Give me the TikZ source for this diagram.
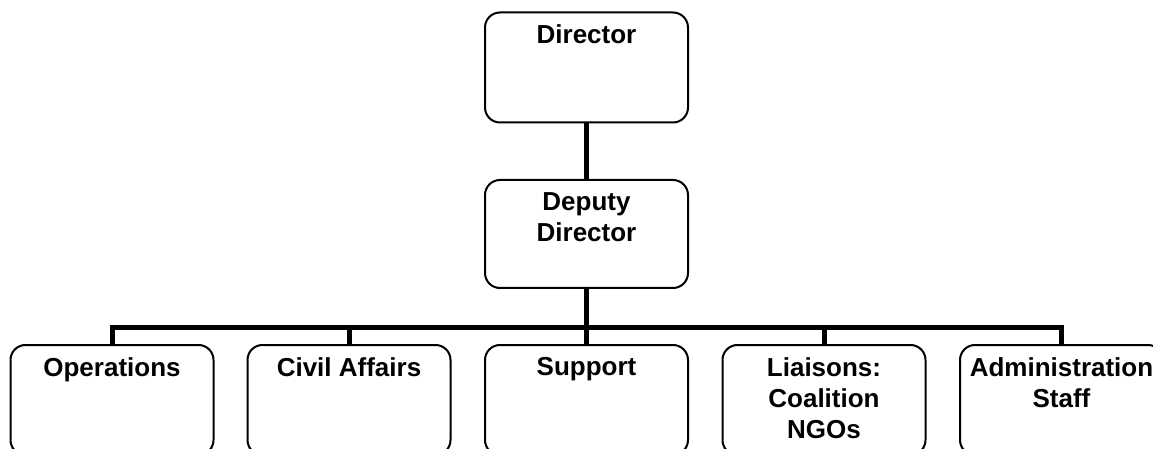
\documentclass[tikz,border=0pt]{standalone}
\usepackage{fontspec}
\setmainfont{Liberation Sans}
\usetikzlibrary{positioning}

\begin{document}
\begin{tikzpicture}[x=0.5pt, y=-0.5pt,
    unit/.style={rectangle, draw, rounded corners=7.5pt, line width=1pt, minimum width=101.5pt, minimum height=55pt, inner sep=0pt},
    title/.style={anchor=north, align=center, inner sep=0pt, font=\fontsize{13}{15.5}\selectfont\bfseries},
    link/.style={line width=2.5pt}]

    \useasboundingbox (0,0) rectangle (1153,449);

    % top of the chart
    \node[unit] (dir) at (586.5,67.5) {};
    \node[unit, minimum height=54pt] (dep) at (586.5,234) {};
    \node[title, below=6.5pt of dir.north] (dirt) {Director};
    \node[title, below=6.5pt of dep.north] (dept) {Deputy\\Director};

    % staff sections
    \node[unit] (ops) at (112,400) {};
    \node[unit] (civ) at (349,400) {};
    \node[unit] (sup) at (586.5,400) {};
    \node[unit] (lia) at (824,400) {};
    \node[unit] (adm) at (1061.5,400) {};
    \node[title, below=6.5pt of ops.north] (opst) {Operations};
    \node[title, below=6.5pt of civ.north] (civt) {Civil Affairs};
    \node[title, below=6.5pt of sup.north] (supt) {Support};
    \node[title, below=6.5pt of lia.north] (liat) {Liaisons:\\Coalition\\NGOs};
    \node[title, below=6.5pt of adm.north] (admt) {Administration\\Staff};

    \coordinate (bus) at (586.5,327);

    \draw[link] (dir) -- (dep);
    \draw[link] (dep) -- (bus);
    \draw[link] (ops.north) -- (ops.north |- bus) -- (adm.north |- bus) -- (adm.north);
    \foreach \n in {civ,sup,lia}
        \draw[link] (\n.north) -- (\n.north |- bus);
\end{tikzpicture}
\end{document}
